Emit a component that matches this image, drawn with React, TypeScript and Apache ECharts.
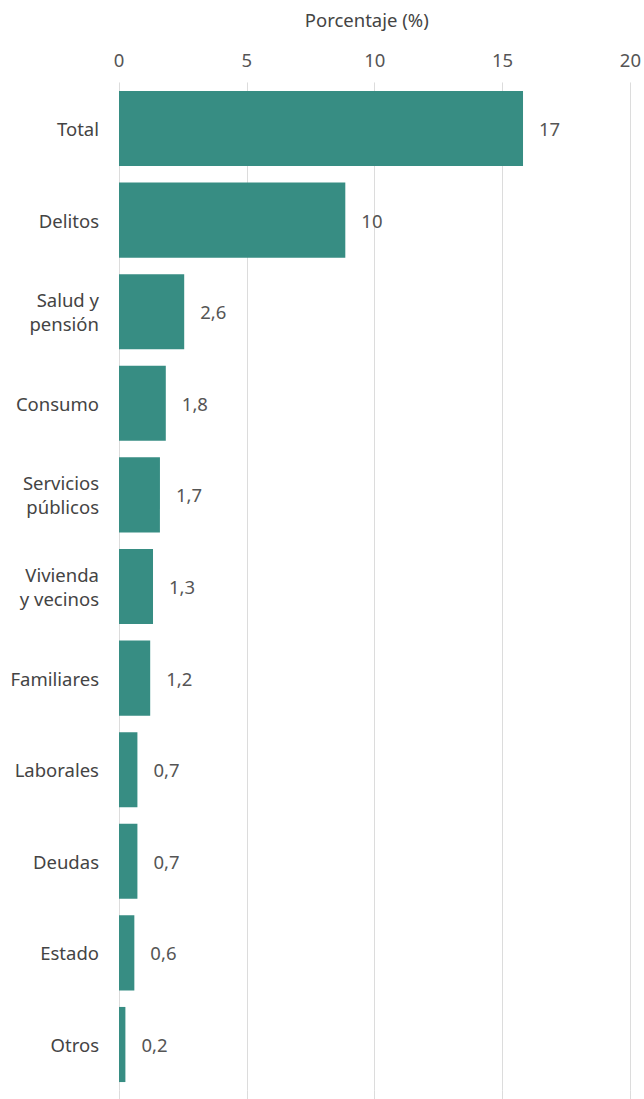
import React, { useEffect, useRef } from "react";
import * as echarts from "echarts";

const categories = [
  "Total",
  "Delitos",
  "Salud y\npensión",
  "Consumo",
  "Servicios\npúblicos",
  "Vivienda\ny vecinos",
  "Familiares",
  "Laborales",
  "Deudas",
  "Estado",
  "Otros",
];
const barValues = [15.8, 8.85, 2.55, 1.83, 1.6, 1.33, 1.22, 0.72, 0.72, 0.6, 0.25];
const valueLabels = ["17", "10", "2,6", "1,8", "1,7", "1,3", "1,2", "0,7", "0,7", "0,6", "0,2"];
const xTicks = { min: 0, max: 20, interval: 5 };

const FONT = "'Noto Sans', sans-serif";
const GRID_COLOR = "#dcdcdc";
const FS = 18.5;

export default function App() {
  const ref = useRef<HTMLDivElement>(null);
  useEffect(() => {
    if (!ref.current) return;
    const chart = echarts.init(ref.current, null, { renderer: "svg" });
    chart.setOption({
      animation: false,
      backgroundColor: "#ffffff",
      textStyle: { fontFamily: FONT },
      grid: { left: 119, right: 12.4, top: 82.7, bottom: 8.7 },
      xAxis: [
        {
          type: "value",
          position: "top",
          min: xTicks.min,
          max: xTicks.max,
          interval: xTicks.interval,
          name: "Porcentaje (%)",
          nameLocation: "middle",
          nameGap: 54,
          nameTextStyle: { color: "#444", fontSize: FS, fontFamily: FONT, padding: [0, 16, 0, 0] },
          axisLine: { show: false },
          axisTick: { show: true, inside: true, length: 10, lineStyle: { color: GRID_COLOR } },
          axisLabel: { color: "#555", fontSize: FS, fontFamily: FONT, margin: 14 },
          splitLine: { show: true, lineStyle: { color: GRID_COLOR, width: 1 } },
        },
        {
          type: "value",
          position: "bottom",
          min: xTicks.min,
          max: xTicks.max,
          interval: xTicks.interval,
          axisLine: { show: false },
          axisTick: { show: true, length: 10, lineStyle: { color: GRID_COLOR } },
          axisLabel: { show: false },
          splitLine: { show: false },
        },
      ],
      yAxis: {
        type: "category",
        inverse: true,
        data: categories,
        axisLine: { show: false },
        axisTick: { show: false },
        axisLabel: {
          color: "#444",
          fontSize: FS,
          fontFamily: FONT,
          margin: 20,
          lineHeight: 24,
          align: "right",
        },
      },
      series: [
        {
          type: "bar",
          xAxisIndex: 0,
          data: barValues,
          barCategoryGap: "18%",
          itemStyle: { color: "#378D83" },
          label: {
            show: true,
            position: "right",
            distance: 16,
            color: "#555",
            fontSize: FS,
            fontFamily: FONT,
            formatter: (p: any) => valueLabels[p.dataIndex],
          },
        },
      ],
    });
    return () => chart.dispose();
  }, []);
  return (
    <div
      ref={ref}
      style={{ position: "fixed", left: 0, top: 0, width: 644, height: 1099 }}
    />
  );
}
